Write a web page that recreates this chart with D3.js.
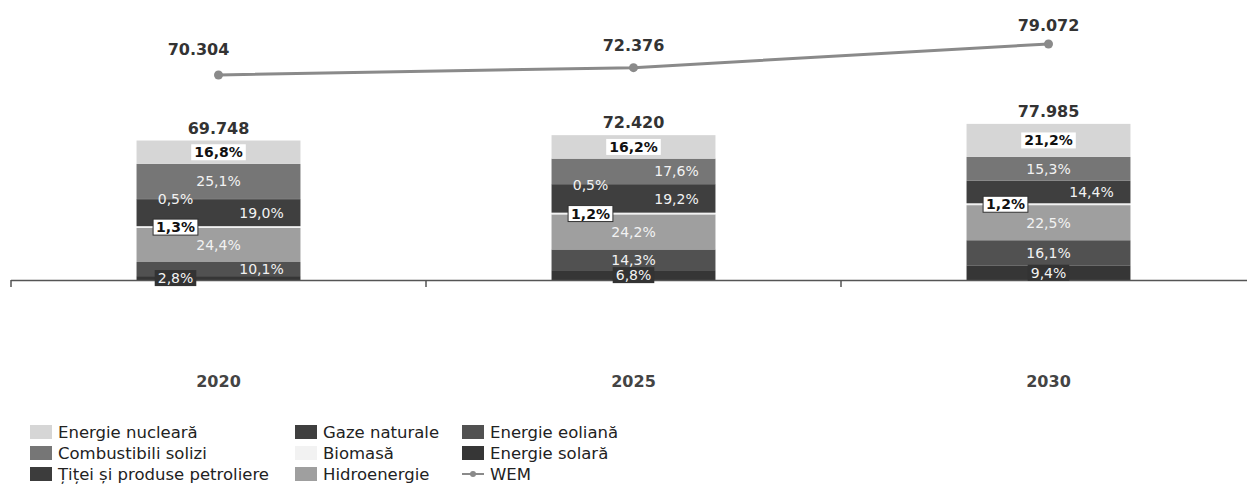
<!DOCTYPE html>
<html>
<head>
<meta charset="utf-8">
<script src="https://cdn.jsdelivr.net/npm/d3@7"></script>
<style>
  html, body { margin: 0; padding: 0; background: #fff; }
  svg { display: block; font-family: "DejaVu Sans", Verdana, sans-serif; }
</style>
</head>
<body>
<svg id="chart" width="1247" height="484"></svg>
<script>
// Electricity mix by year: totals and percentage shares per source
const years = ["2020", "2025", "2030"];
const totals = [69.748, 72.420, 77.985];
const wem = [70.304, 72.376, 79.072];

// Sources, listed top of stack first (same order as the legend)
const sources = [
  "Energie nucleară", "Combustibili solizi", "Țiței și produse petroliere",
  "Gaze naturale", "Biomasă", "Hidroenergie", "Energie eoliană", "Energie solară"
];
const shareNuclear = [16.8, 16.2, 21.2];
const shareSolid   = [25.1, 17.6, 15.3];
const shareOil     = [0.5, 0.5, 0];
const shareGas     = [19.0, 19.2, 14.4];
const shareBiomass = [1.3, 1.2, 1.2];
const shareHydro   = [24.4, 24.2, 22.5];
const shareWind    = [10.1, 14.3, 16.1];
const shareSolar   = [2.8, 6.8, 9.4];
const shares = [shareNuclear, shareSolid, shareOil, shareGas, shareBiomass, shareHydro, shareWind, shareSolar];

// Styling
const colors = ["#d6d6d6", "#767676", "#3c3c3c", "#3f3f3f", "#f2f2f2", "#9f9f9f", "#515151", "#363636"];
// label style per source: light box, dark box or plain white text
const labelStyle = ["light", "plain", "plain", "plain", "lightBorder", "plain", "plain", "dark"];
// horizontal placement of each percentage label inside its bar, per year
const labelSide = [
  ["c", "c", "l", "r", "l", "c", "r", "l"],
  ["c", "r", "l", "r", "l", "c", "c", "c"],
  ["c", "c", "l", "r", "l", "c", "c", "c"]
];
const sideOffset = { c: 0, l: -43, r: 43 };

const svg = d3.select("#chart");

const x = d3.scaleBand().domain(years).range([11, 1256]).paddingInner(0.605).paddingOuter(0.3025);
const y = d3.scaleLinear().domain([0, 80]).range([280, 120]);
const yLine = d3.scaleLinear().domain([60, 80]).range([111.4, 40.7]);

const fmtPct = v => d3.format(".1f")(v).replace(".", ",") + "%";
const fmtTotal = v => d3.format(".3f")(v);

// Build stacked segments bottom-up
const segs = [];
years.forEach((yr, i) => {
  let acc = 0;
  for (let s = sources.length - 1; s >= 0; s--) {
    const pct = shares[s][i];
    const v = pct / 100 * totals[i];
    segs.push({ year: yr, yi: i, s, pct, y0: acc, y1: acc + v });
    acc += v;
  }
});

// Bars
svg.append("g").selectAll("rect").data(segs.filter(d => d.pct > 0)).join("rect")
  .attr("x", d => x(d.year))
  .attr("width", x.bandwidth())
  .attr("y", d => y(d.y1))
  .attr("height", d => Math.max(0.8, y(d.y0) - y(d.y1)))
  .attr("fill", d => colors[d.s]);

// Baseline axis with ticks at category boundaries
const axisG = svg.append("g");
axisG.append("line")
  .attr("x1", x.range()[0]).attr("x2", 1247)
  .attr("y1", y(0) + 0.5).attr("y2", y(0) + 0.5)
  .attr("stroke", "#555").attr("stroke-width", 1.5);
d3.range(years.length).forEach(i => {
  const tx = x.range()[0] + i * x.step();
  axisG.append("line").attr("x1", tx).attr("x2", tx)
    .attr("y1", y(0)).attr("y2", y(0) + 7)
    .attr("stroke", "#555").attr("stroke-width", 1.5);
});

// Percentage labels
const labels = svg.append("g").selectAll("g").data(segs.filter(d => d.pct > 0)).join("g")
  .attr("transform", d => {
    const cx = x(d.year) + x.bandwidth() / 2 + sideOffset[labelSide[d.yi][d.s]];
    const cy = (y(d.y0) + y(d.y1)) / 2;
    return `translate(${cx},${cy})`;
  });
labels.each(function(d) {
  const g = d3.select(this);
  const st = labelStyle[d.s];
  const bold = st === "light" || st === "lightBorder";
  const t = g.append("text")
    .attr("text-anchor", "middle")
    .attr("dy", "0.36em")
    .attr("font-size", 14)
    .attr("font-weight", bold ? "bold" : "normal")
    .attr("fill", bold ? "#111" : "#f2f2f2")
    .text(fmtPct(d.pct));
  if (st !== "plain") {
    const bb = t.node().getBBox();
    g.insert("rect", "text")
      .attr("x", bb.x - 3).attr("y", bb.y)
      .attr("width", bb.width + 6).attr("height", bb.height)
      .attr("fill", st === "dark" ? "#333" : "#fff")
      .attr("stroke", st === "lightBorder" ? "#333" : "none")
      .attr("stroke-width", 1);
  }
});

// Totals above bars
svg.append("g").selectAll("text").data(years).join("text")
  .attr("x", d => x(d) + x.bandwidth() / 2)
  .attr("y", (d, i) => y(totals[i]) - 7)
  .attr("text-anchor", "middle")
  .attr("font-size", 16).attr("font-weight", "bold").attr("fill", "#333")
  .text((d, i) => fmtTotal(totals[i]));

// WEM line
const linePts = years.map((yr, i) => [x(yr) + x.bandwidth() / 2, yLine(wem[i])]);
svg.append("path")
  .attr("d", d3.line()(linePts))
  .attr("fill", "none").attr("stroke", "#8a8a8a").attr("stroke-width", 3);
svg.append("g").selectAll("circle").data(linePts).join("circle")
  .attr("cx", d => d[0]).attr("cy", d => d[1]).attr("r", 4.5).attr("fill", "#8a8a8a");
const wemDx = [-20, 0, 0];
const wemDy = [-20, -17, -13];
svg.append("g").selectAll("text").data(wem).join("text")
  .attr("x", (d, i) => linePts[i][0] + wemDx[i])
  .attr("y", (d, i) => linePts[i][1] + wemDy[i])
  .attr("text-anchor", "middle")
  .attr("font-size", 16).attr("font-weight", "bold").attr("fill", "#333")
  .text(d => fmtTotal(d));

// Category labels
svg.append("g").selectAll("text").data(years).join("text")
  .attr("x", d => x(d) + x.bandwidth() / 2)
  .attr("y", 387)
  .attr("text-anchor", "middle")
  .attr("font-size", 16).attr("font-weight", "bold").attr("fill", "#444")
  .text(d => d);

// Legend: three columns, filled column by column
const legendItems = sources.map((name, i) => ({ name, color: colors[i], type: "rect" }))
  .concat([{ name: "WEM", color: "#8a8a8a", type: "line" }]);
const colX = [30, 295, 462];
const rowY = [432, 453, 474];
const leg = svg.append("g").selectAll("g").data(legendItems).join("g")
  .attr("transform", (d, i) => `translate(${colX[Math.floor(i / 3)]},${rowY[i % 3]})`);
leg.each(function(d) {
  const g = d3.select(this);
  if (d.type === "rect") {
    g.append("rect").attr("x", 0).attr("y", -7).attr("width", 22).attr("height", 14)
      .attr("fill", d.color);
  } else {
    g.append("line").attr("x1", 0).attr("x2", 22).attr("y1", 0).attr("y2", 0)
      .attr("stroke", d.color).attr("stroke-width", 2);
    g.append("circle").attr("cx", 11).attr("cy", 0).attr("r", 3).attr("fill", d.color);
  }
  g.append("text").attr("x", 28).attr("dy", "0.35em")
    .attr("font-size", 16.5).attr("fill", "#222").text(d.name);
});
</script>
</body>
</html>
